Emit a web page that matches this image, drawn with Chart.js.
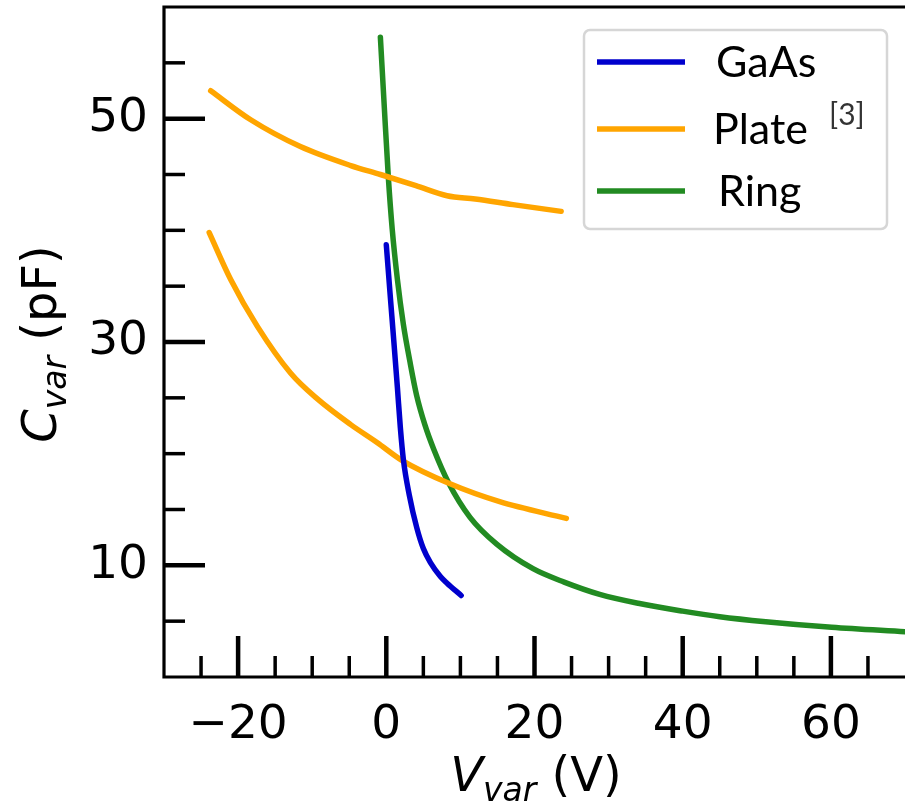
<!DOCTYPE html>
<html>
<head>
<meta charset="utf-8">
<script src="https://cdn.jsdelivr.net/npm/chart.js@4.4.0/dist/chart.umd.min.js"></script>
<style>
  html, body { margin: 0; padding: 0; background: #fff; overflow: hidden; }
</style>
</head>
<body>
<canvas id="cvarChart" width="905" height="810"></canvas>
<script>
// values
const seriesNames = ['GaAs', 'Plate', 'Ring'];

const gaasV = [0, 0.5, 1.0, 1.5, 1.9, 2.3, 3.1, 4.1, 5.0, 6.0, 7.3, 8.2, 10.1];
const gaasC = [38.7, 34.4, 30.2, 25.9, 22.3, 19.5, 16.3, 13.4, 11.5, 10.2, 9.0, 8.4, 7.3];

const plateHiV = [-23.7, -18.3, -11.6, -4.8, -0.8, 4.0, 8.2, 12.0, 17.1, 23.6];
const plateHiC = [52.5, 49.9, 47.5, 45.8, 45.0, 44.0, 43.1, 42.8, 42.3, 41.7];

const plateLoV = [-23.9, -21.0, -17.4, -12.9, -9.3, -4.8, -1.25, 2.1, 8.6, 15.3, 24.3];
const plateLoC = [39.8, 35.6, 31.4, 27.2, 24.9, 22.6, 21.0, 19.4, 17.3, 15.7, 14.2];

const ringV = [-0.8, -0.3, 0.27, 0.8, 1.5, 2.3, 3.2, 4.1, 5.2, 6.4, 8.4, 11.3, 14.9, 19.8, 24, 28.8, 34, 40, 45, 51.2, 60.1, 70];
const ringC = [57.3, 51.4, 44.8, 40.1, 35.6, 31.6, 28.2, 25.2, 22.6, 20.4, 17.4, 14.3, 11.9, 9.7, 8.5, 7.4, 6.6, 5.9, 5.4, 4.95, 4.45, 4.05];

const xTickLabels = [-20, 0, 20, 40, 60];
const yTickLabels = [10, 30, 50];

const colors = { GaAs: '#0000cd', Plate: '#ffa500', Ring: '#228b22' };

const toPoints = (xs, ys) => xs.map((v, i) => ({ x: v, y: ys[i] }));
const fmtNum = v => (v < 0 ? '\u2212' + Math.abs(v) : String(v));

const tickFont = { family: '"DejaVu Sans"', size: 47 };

// inward ticks + spines, matplotlib style
const axisMarks = {
    id: 'axisMarks',
    afterDatasetsDraw(chart) {
        const { ctx, chartArea: a, scales: { x, y } } = chart;
        ctx.save();
        ctx.strokeStyle = '#000';
        ctx.lineCap = 'butt';
        x.ticks.forEach(t => {
            if (t.value <= x.min || t.value >= x.max) return;
            const major = xTickLabels.includes(t.value);
            const px = x.getPixelForValue(t.value);
            ctx.lineWidth = major ? 4.5 : 3.5;
            ctx.beginPath();
            ctx.moveTo(px, a.bottom);
            ctx.lineTo(px, a.bottom - (major ? 41 : 21));
            ctx.stroke();
        });
        y.ticks.forEach(t => {
            if (t.value <= y.min || t.value >= y.max) return;
            const major = yTickLabels.includes(t.value);
            const py = y.getPixelForValue(t.value);
            ctx.lineWidth = major ? 4.5 : 3.5;
            ctx.beginPath();
            ctx.moveTo(a.left, py);
            ctx.lineTo(a.left + (major ? 41 : 21), py);
            ctx.stroke();
        });
        ctx.lineWidth = 3.2;
        ctx.lineCap = 'square';
        ctx.beginPath();
        ctx.moveTo(a.right + 5, a.top);
        ctx.lineTo(a.left, a.top);
        ctx.lineTo(a.left, a.bottom);
        ctx.lineTo(a.right + 5, a.bottom);
        ctx.stroke();
        ctx.restore();
    }
};

// draw a run of text pieces (for the subscripts)
function drawRun(ctx, parts, cx, baseY) {
    let total = 0;
    parts.forEach(p => { ctx.font = p.font; p.w = ctx.measureText(p.text).width; total += p.w; });
    let x0 = cx - total / 2;
    parts.forEach(p => {
        ctx.font = p.font;
        ctx.fillText(p.text, x0, baseY + p.dy);
        x0 += p.w;
    });
}

const axisTitles = {
    id: 'axisTitles',
    afterDraw(chart) {
        const { ctx } = chart;
        ctx.save();
        ctx.fillStyle = '#000';
        ctx.textBaseline = 'alphabetic';
        ctx.textAlign = 'left';
        drawRun(ctx, [
            { text: 'V', font: 'italic 48px "DejaVu Sans"', dy: 0 },
            { text: 'var', font: 'italic 33px "DejaVu Sans"', dy: 10 },
            { text: ' (V)', font: '48px "DejaVu Sans"', dy: 0 }
        ], 536, 791);

        ctx.translate(56, 344);
        ctx.rotate(-Math.PI / 2);
        drawRun(ctx, [
            { text: 'C', font: 'italic 48px "DejaVu Sans"', dy: 0 },
            { text: 'var', font: 'italic 33px "DejaVu Sans"', dy: 10 },
            { text: ' (pF)', font: '48px "DejaVu Sans"', dy: 0 }
        ], 0, 0);
        ctx.restore();
    }
};

// legend box in the upper right, one row per name
const boxLegend = {
    id: 'boxLegend',
    afterDraw(chart) {
        const { ctx } = chart;
        const rowY = [62, 129, 191];
        const textX = [716, 713, 718];
        ctx.save();
        ctx.beginPath();
        ctx.roundRect(584, 30, 303, 199, 6);
        ctx.fillStyle = 'rgba(255,255,255,0.85)';
        ctx.fill();
        ctx.lineWidth = 2.5;
        ctx.strokeStyle = '#d6d6d6';
        ctx.stroke();

        seriesNames.forEach((name, i) => {
            ctx.strokeStyle = colors[name];
            ctx.lineWidth = 5.5;
            ctx.lineCap = 'butt';
            ctx.beginPath();
            ctx.moveTo(597, rowY[i]);
            ctx.lineTo(685, rowY[i]);
            ctx.stroke();
            ctx.fillStyle = '#000';
            ctx.font = '43px Lato';
            ctx.textBaseline = 'middle';
            ctx.fillText(name, textX[i], rowY[i] + 1);
        });
        ctx.fillStyle = '#333';
        ctx.font = '30px Lato';
        ctx.textBaseline = 'alphabetic';
        ctx.fillText('[3]', 829, 125);
        ctx.restore();
    }
};

const lineStyle = color => ({
    borderColor: color,
    backgroundColor: color,
    borderWidth: 5.5,
    pointRadius: 0,
    fill: false,
    cubicInterpolationMode: 'monotone',
    borderCapStyle: 'round',
    borderJoinStyle: 'round'
});

// drop the half-label padding Chart.js reserves at the axis ends
const noEndPadding = s => { s.paddingLeft = 0; s.paddingRight = 0; s.paddingTop = 0; s.paddingBottom = 0; };

new Chart(document.getElementById('cvarChart'), {
    type: 'line',
    data: {
        datasets: [
            { label: 'GaAs', data: toPoints(gaasV, gaasC), ...lineStyle(colors.GaAs) },
            { label: 'Plate', data: toPoints(plateHiV, plateHiC), ...lineStyle(colors.Plate) },
            { label: 'Plate', data: toPoints(plateLoV, plateLoC), ...lineStyle(colors.Plate) },
            { label: 'Ring', data: toPoints(ringV, ringC), ...lineStyle(colors.Ring) }
        ]
    },
    options: {
        responsive: false,
        animation: false,
        events: [],
        layout: { padding: { top: 7, right: 0, left: 0, bottom: 0 } },
        plugins: { legend: { display: false }, tooltip: { enabled: false } },
        scales: {
            x: {
                type: 'linear',
                min: -30,
                max: 70,
                grid: { display: false, drawTicks: false },
                border: { display: false },
                ticks: {
                    stepSize: 5,
                    autoSkip: false,
                    maxRotation: 0,
                    padding: 21,
                    color: '#000',
                    font: tickFont,
                    callback: v => (xTickLabels.includes(v) ? fmtNum(v) : '')
                },
                afterFit: s => { s.height = 133; noEndPadding(s); }
            },
            y: {
                type: 'linear',
                min: 0,
                max: 60,
                grid: { display: false, drawTicks: false },
                border: { display: false },
                ticks: {
                    stepSize: 5,
                    autoSkip: false,
                    padding: 16,
                    color: '#000',
                    font: tickFont,
                    callback: v => (yTickLabels.includes(v) ? fmtNum(v) : '')
                },
                afterFit: s => { s.width = 164; noEndPadding(s); }
            }
        }
    },
    plugins: [axisMarks, axisTitles, boxLegend]
});
</script>
</body>
</html>
